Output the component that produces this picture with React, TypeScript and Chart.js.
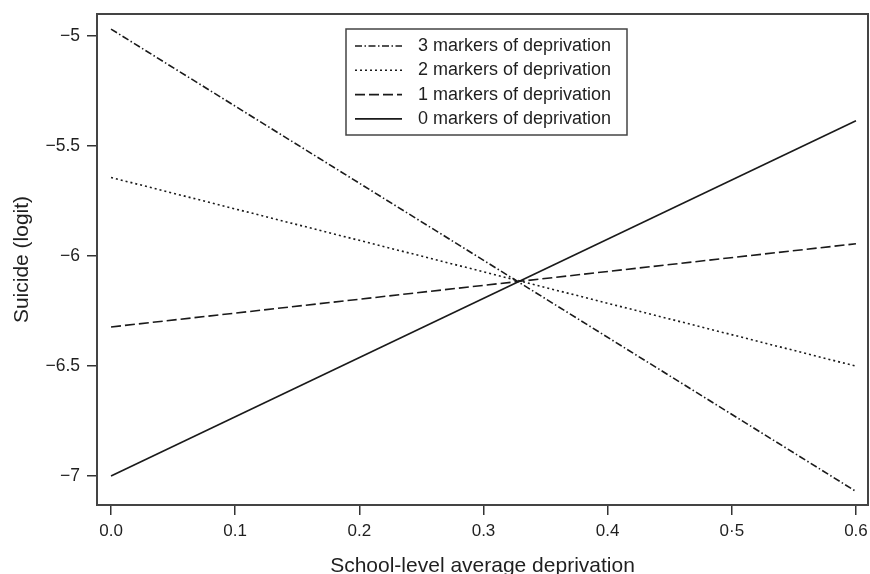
import React, { useEffect, useRef } from "react";
import { Chart, registerables } from "chart.js";

Chart.register(...registerables);

const seriesLabels = [
  "3 markers of deprivation",
  "2 markers of deprivation",
  "1 markers of deprivation",
  "0 markers of deprivation",
];
const xValues = [0.0, 0.6];
const series3 = [-4.97, -7.07];
const series2 = [-5.644, -6.501];
const series1 = [-6.323, -5.945];
const series0 = [-7.0, -5.386];

const xTickValues = [0, 0.1, 0.2, 0.3, 0.4, 0.5, 0.6];
const xTickLabels = ["0.0", "0.1", "0.2", "0.3", "0.4", "0·5", "0.6"];
const yTickValues = [-7, -6.5, -6, -5.5, -5];
const yTickLabels = ["−7", "−6.5", "−6", "−5.5", "−5"];

const FAMILY = '"Liberation Sans", Arial, Helvetica, sans-serif';
const INK = "#1a1a1a";
const TEXT = "#1f1f1f";

const dashes = [[7, 2.5, 1.5, 2.5], [2, 3], [10, 4], []];

const frame = {
  id: "frame",
  afterDraw(chart: any) {
    const { ctx, chartArea: a } = chart;
    ctx.save();
    ctx.strokeStyle = "#444";
    ctx.lineWidth = 2;
    ctx.setLineDash([]);
    ctx.strokeRect(a.left, a.top, a.right - a.left, a.bottom - a.top);
    ctx.restore();
  },
};

const legendBox = {
  id: "legendBox",
  afterDatasetsDraw(chart: any) {
    const { ctx, chartArea: a } = chart;
    const x0 = a.left + 249;
    const y0 = a.top + 15;
    const w = 281;
    const h = 106;
    ctx.save();
    ctx.fillStyle = "#fff";
    ctx.fillRect(x0, y0, w, h);
    ctx.strokeStyle = "#444";
    ctx.lineWidth = 1.5;
    ctx.setLineDash([]);
    ctx.strokeRect(x0, y0, w, h);
    chart.data.datasets.forEach((ds: any, i: number) => {
      const y = y0 + 17 + i * 24.3;
      ctx.setLineDash(ds.borderDash || []);
      ctx.strokeStyle = ds.borderColor;
      ctx.lineWidth = ds.borderWidth;
      ctx.beginPath();
      ctx.moveTo(x0 + 9, y);
      ctx.lineTo(x0 + 56, y);
      ctx.stroke();
      ctx.setLineDash([]);
      ctx.fillStyle = TEXT;
      ctx.font = `18px ${FAMILY}`;
      ctx.textBaseline = "middle";
      ctx.textAlign = "left";
      ctx.fillText(ds.label, x0 + 72, y);
    });
    ctx.restore();
  },
};

export default function App() {
  const ref = useRef<HTMLCanvasElement>(null);

  useEffect(() => {
    if (!ref.current) return;
    const allSeries = [series3, series2, series1, series0];
    const chart = new Chart(ref.current, {
      type: "line",
      data: {
        datasets: allSeries.map((s, i) => ({
          label: seriesLabels[i],
          data: xValues.map((x, j) => ({ x, y: s[j] })),
          borderColor: INK,
          borderWidth: 1.6,
          borderDash: dashes[i],
          pointRadius: 0,
          tension: 0,
          fill: false,
        })),
      },
      options: {
        responsive: false,
        animation: false,
        devicePixelRatio: 1,
        layout: { padding: { top: 14, right: 2, left: 0, bottom: 0 } },
        plugins: {
          legend: { display: false },
          tooltip: { enabled: false },
          title: { display: false },
        },
        scales: {
          x: {
            type: "linear",
            min: -0.0113,
            max: 0.6097,
            afterBuildTicks: (s: any) => {
              s.ticks = xTickValues.map((v) => ({ value: v }));
            },
            afterFit: (s: any) => {
              s.height = 69;
              s.paddingLeft = 0;
              s.paddingRight = 0;
              s.paddingTop = 0;
              s.paddingBottom = 0;
            },
            ticks: {
              callback: (_v: any, i: number) => xTickLabels[i],
              font: { size: 17, family: FAMILY },
              color: TEXT,
              padding: 6,
              maxRotation: 0,
              autoSkip: false,
            },
            grid: {
              drawOnChartArea: false,
              drawTicks: true,
              tickLength: 10,
              color: "#333",
              lineWidth: 1.5,
            },
            border: { display: false },
            title: {
              display: true,
              text: "School-level average deprivation",
              font: { size: 21, family: FAMILY, lineHeight: 1 },
              color: TEXT,
              padding: { top: 0, bottom: -3 },
            },
          },
          y: {
            type: "linear",
            min: -7.1317,
            max: -4.9014,
            afterBuildTicks: (s: any) => {
              s.ticks = yTickValues.map((v) => ({ value: v }));
            },
            afterFit: (s: any) => {
              s.width = 97;
              s.paddingLeft = 0;
              s.paddingRight = 0;
              s.paddingTop = 0;
              s.paddingBottom = 0;
            },
            ticks: {
              callback: (_v: any, i: number) => yTickLabels[i],
              font: { size: 17.5, family: FAMILY },
              color: TEXT,
              padding: 7,
              autoSkip: false,
            },
            grid: {
              drawOnChartArea: false,
              drawTicks: true,
              tickLength: 10,
              color: "#333",
              lineWidth: 1.5,
            },
            border: { display: false },
            title: {
              display: true,
              text: "Suicide (logit)",
              font: { size: 21, family: FAMILY, lineHeight: 1 },
              color: TEXT,
              padding: { top: 12, bottom: 0 },
            },
          },
        },
      },
      plugins: [frame, legendBox],
    } as any);
    return () => chart.destroy();
  }, []);

  return (
    <div style={{ position: "absolute", left: 0, top: 0, width: 870, height: 574, background: "#fff" }}>
      <canvas ref={ref} width={870} height={574} style={{ display: "block" }} />
    </div>
  );
}
